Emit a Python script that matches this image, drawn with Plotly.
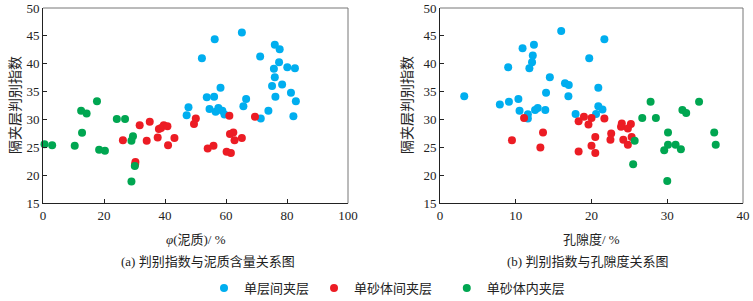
import plotly.graph_objects as go

# ---------------- data: panel (a) mud content vs index ----------------
a_blue_x = [52.1, 56.3, 65.2, 71.2, 76.0, 77.6, 77.4, 75.7, 80.1, 82.6, 76.0, 75.1, 78.4, 81.3,
            76.2, 82.9, 73.9, 71.4, 82.1, 66.6, 65.7, 58.2, 53.7, 56.1, 47.7, 47.1, 54.6, 56.6,
            57.5, 58.8, 59.5]
a_blue_y = [41.0, 44.4, 45.6, 41.3, 43.4, 42.6, 40.3, 39.1, 39.4, 39.2, 37.6, 36.0, 36.3, 34.8,
            34.1, 33.3, 31.6, 30.2, 30.6, 33.7, 32.4, 35.7, 34.0, 34.1, 32.2, 30.8, 31.9, 31.4,
            32.1, 31.6, 30.9]
a_red_x = [26.2, 30.3, 30.2, 31.7, 34.0, 35.0, 37.6, 38.0, 38.7, 39.6, 40.8, 41.0, 43.1,
           50.1, 49.5, 54.0, 55.9, 61.1, 61.3, 62.4, 62.8, 65.2, 60.2, 61.6, 69.5]
a_red_y = [26.3, 22.4, 22.0, 29.0, 26.2, 29.6, 26.8, 28.3, 28.5, 29.0, 28.8, 25.4, 26.7,
           30.2, 29.2, 24.8, 25.3, 30.7, 27.4, 27.7, 26.3, 26.7, 24.25, 24.0, 30.5]
a_green_x = [0.5, 3.0, 10.4, 12.5, 12.8, 14.3, 17.7, 18.4, 20.3, 24.2, 26.9, 29.0, 29.5, 30.1, 29.0]
a_green_y = [25.6, 25.4, 25.3, 31.6, 27.65, 31.1, 33.3, 24.6, 24.4, 30.1, 30.1, 26.2, 27.0, 21.7, 18.9]

# ---------------- data: panel (b) porosity vs index ----------------
b_blue_x = [3.2, 7.9, 9.1, 9.0, 10.35, 10.5, 11.6, 11.6, 10.9, 12.4, 12.25, 12.15, 11.8, 14.5,
            14.0, 12.55, 12.9, 13.9, 16.0, 16.5, 17.0, 16.95, 21.7, 19.7, 20.9, 20.9, 21.45,
            20.6, 17.9]
b_blue_y = [34.2, 32.7, 33.2, 39.4, 33.7, 31.6, 30.95, 30.2, 42.8, 43.4, 41.5, 40.3, 39.2, 37.6,
            34.8, 31.7, 32.1, 31.7, 45.9, 36.5, 36.2, 34.2, 44.4, 41.0, 35.7, 32.4, 31.8,
            31.0, 31.0]
b_red_x = [9.5, 11.1, 13.6, 13.25, 18.3, 19.0, 20.0, 19.6, 21.7, 20.5, 20.0, 18.3, 20.5, 22.6,
           22.5, 24.0, 23.9, 25.2, 24.8, 25.3, 24.2, 24.8]
b_red_y = [26.3, 30.3, 27.7, 25.0, 29.7, 30.5, 30.3, 29.1, 30.2, 26.9, 25.3, 24.3, 24.0, 27.5,
           26.4, 29.3, 28.7, 29.2, 28.4, 26.9, 26.4, 25.5]
b_green_x = [25.7, 25.5, 26.7, 27.8, 28.5, 30.1, 30.1, 31.1, 29.6, 31.8, 30.0, 32.0, 32.5, 34.2,
             36.2, 36.4]
b_green_y = [26.2, 22.0, 30.3, 33.2, 30.3, 27.7, 25.5, 25.5, 24.5, 24.7, 19.0, 31.7, 31.2, 33.2,
             27.7, 25.5]

series_names = ["单层间夹层", "单砂体间夹层", "单砂体内夹层"]
colors = ["#00AEEF", "#EC1C24", "#00A651"]

x_ticks_a = [0, 20, 40, 60, 80, 100]
x_ticks_b = [0, 10, 20, 30, 40]
y_ticks = [15, 20, 25, 30, 35, 40, 45, 50]

FONT = "Liberation Serif, Noto Sans CJK SC"
# small invisible padding after each legend label to mimic the reference spacing
legend_pad = ["", "\u00a0\u00a0\u00a0", ""]

fig = go.Figure()
panel_a = [(a_blue_x, a_blue_y), (a_red_x, a_red_y), (a_green_x, a_green_y)]
panel_b = [(b_blue_x, b_blue_y), (b_red_x, b_red_y), (b_green_x, b_green_y)]
for i, (xs, ys) in enumerate(panel_a):
    fig.add_trace(go.Scatter(x=xs, y=ys, mode="markers", name=series_names[i] + legend_pad[i],
                             marker=dict(color=colors[i], size=8), xaxis="x", yaxis="y",
                             showlegend=True, cliponaxis=False))
for i, (xs, ys) in enumerate(panel_b):
    fig.add_trace(go.Scatter(x=xs, y=ys, mode="markers", name=series_names[i],
                             marker=dict(color=colors[i], size=8), xaxis="x2", yaxis="y2",
                             showlegend=False, cliponaxis=False))

W, H = 753, 301
def px_x(p): return p / W
def px_y(p): return 1 - p / H

axis_common = dict(showgrid=False, zeroline=False, showline=True, linecolor="#222",
                   linewidth=1, ticks="inside", ticklen=4, tickcolor="#222",
                   automargin=False,
                   tickfont=dict(family=FONT, size=13, color="#222"))

fig.update_layout(
    width=W, height=H, margin=dict(l=0, r=0, t=0, b=0, autoexpand=False),
    paper_bgcolor="white", plot_bgcolor="white",
    font=dict(family=FONT, size=13, color="#222"),
    xaxis=dict(domain=[px_x(43), px_x(348)], range=[0, 100], tickvals=x_ticks_a,
               anchor="y", **axis_common),
    yaxis=dict(domain=[px_y(203.3), px_y(8)], range=[15, 50], tickvals=y_ticks,
               anchor="x", **axis_common),
    xaxis2=dict(domain=[px_x(440), px_x(743)], range=[0, 40], tickvals=x_ticks_b,
                anchor="y2", **axis_common),
    yaxis2=dict(domain=[px_y(203.3), px_y(8)], range=[15, 50], tickvals=y_ticks,
                anchor="x2", **axis_common),
    legend=dict(orientation="h", x=px_x(204), y=px_y(288), xanchor="left", yanchor="middle",
                font=dict(family=FONT, size=13, color="#222"), itemwidth=30,
                bgcolor="rgba(0,0,0,0)"),
    showlegend=True,
)

# top / right frame lines in grey
for xr, yr in [("x domain", "y domain"), ("x2 domain", "y2 domain")]:
    fig.add_shape(type="line", xref=xr, yref=yr, x0=0, x1=1, y0=1, y1=1,
                  line=dict(color="#777", width=1))
    fig.add_shape(type="line", xref=xr, yref=yr, x0=1, x1=1, y0=0, y1=1,
                  line=dict(color="#777", width=1))

ann = [
    dict(text="<i>φ</i>(泥质)/ %", x=px_x(196), y=px_y(239)),
    dict(text="(a) 判别指数与泥质含量关系图", x=px_x(208), y=px_y(261)),
    dict(text="孔隙度/ %", x=px_x(591), y=px_y(239)),
    dict(text="(b) 判别指数与孔隙度关系图", x=px_x(587), y=px_y(261)),
]
for a in ann:
    fig.add_annotation(xref="paper", yref="paper", showarrow=False,
                       xanchor="center", yanchor="middle",
                       font=dict(family=FONT, size=13, color="#222"), **a)
for xc in [16, 408]:
    fig.add_annotation(xref="paper", yref="paper", showarrow=False, textangle=-90,
                       text="隔夹层判别指数", x=px_x(xc), y=px_y(105),
                       xanchor="center", yanchor="middle",
                       font=dict(family=FONT, size=14, color="#222"))

# remove the browser's default 8px body margin so the figure sits at the page origin
fig.write_html("out.html", config={"displayModeBar": False},
               post_script="document.body.style.margin='0';document.body.style.overflow='hidden';")
